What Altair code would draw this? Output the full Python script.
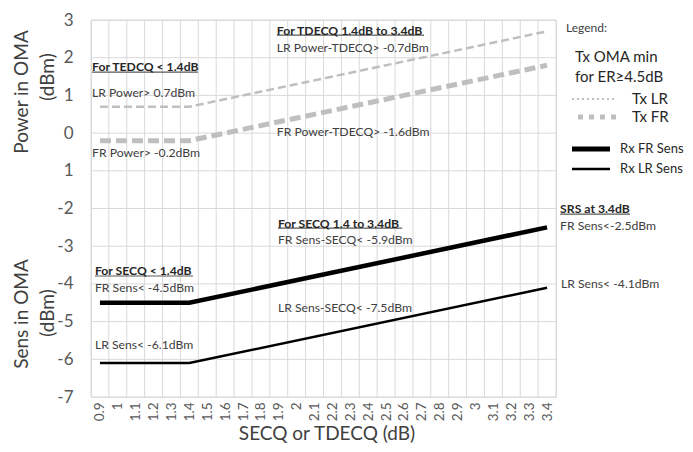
import altair as alt
import pandas as pd

# ---- data ----
x_ticks = [0.9, 1.0, 1.1, 1.2, 1.3, 1.4, 1.5, 1.6, 1.7, 1.8, 1.9, 2.0, 2.1, 2.2,
           2.3, 2.4, 2.5, 2.6, 2.7, 2.8, 2.9, 3.0, 3.1, 3.2, 3.3, 3.4]
y_ticks = [3, 2, 1, 0, -1, -2, -3, -4, -5, -6, -7]

break_x = [0.9, 1.4, 3.4]
tx_lr = [0.7, 0.7, 2.7]
tx_fr = [-0.2, -0.2, 1.8]
rx_fr = [-4.5, -4.5, -2.5]
rx_lr = [-6.1, -6.1, -4.1]

series_names = ["Tx LR", "Tx FR", "Rx FR Sens", "Rx LR Sens"]
series_vals = [tx_lr, tx_fr, rx_fr, rx_lr]

ann_text = ["For TEDCQ < 1.4dB", "LR Power> 0.7dBm", "FR Power> -0.2dBm",
            "For TDECQ 1.4dB to 3.4dB", "LR Power-TDECQ> -0.7dBm", "FR Power-TDECQ> -1.6dBm",
            "For SECQ < 1.4dB", "FR Sens< -4.5dBm", "LR Sens< -6.1dBm",
            "For SECQ 1.4 to 3.4dB", "FR Sens-SECQ< -5.9dBm", "LR Sens-SECQ< -7.5dBm",
            "SRS at 3.4dB", "FR Sens<-2.5dBm", "LR Sens< -4.1dBm"]
ann_x = [0.856, 0.856, 0.856,
         1.889, 1.889, 1.889,
         0.872, 0.872, 0.872,
         1.895, 1.895, 1.895,
         3.473, 3.473, 3.478]
ann_y = [1.75, 1.06, -0.53,
         2.71, 2.26, 0.03,
         -3.66, -4.11, -5.62,
         -2.41, -2.84, -4.64,
         -2.01, -2.46, -4.0]
ann_bold = [True, False, False, True, False, False, True, False, False,
            True, False, False, True, False, False]

ul_x = [0.856, 1.889, 0.872, 1.895, 3.473]
ul_x2 = [1.448, 2.712, 1.420, 2.590, 3.864]
ul_y = [1.62, 2.60, -3.79, -2.52, -2.15]

# ---- tables ----
rows = []
for name, vals in zip(series_names, series_vals):
    for xv, yv in zip(break_x, vals):
        rows.append({"series": name, "x": xv, "y": yv})
lines_df = pd.DataFrame(rows)

grid_x = [round(t - 0.05, 2) for t in x_ticks] + [round(x_ticks[-1] + 0.05, 2)]
grid_df = pd.DataFrame({"x": grid_x})
hgrid_df = pd.DataFrame({"y": y_ticks})

ann_df = pd.DataFrame({"t": ann_text, "x": ann_x, "y": ann_y, "b": ann_bold})
ul_df = pd.DataFrame({"x": ul_x, "x2": ul_x2, "y": ul_y})

FONT = "Lato"
GRID = "#D9D9D9"
TXC = "#BFBFBF"
TEXTC = "#404040"
ANN = 12.2

xs = alt.Scale(domain=[0.85, 3.45], nice=False, zero=False)
ys = alt.Scale(domain=[-7, 3], nice=False, zero=False)

x_axis = alt.Axis(values=x_ticks, format=".1~f", grid=False, ticks=False, domain=False,
                  labelAngle=-90, labelAlign="right", labelBaseline="middle",
                  labelFontSize=13.5, labelColor="#595959", labelFont=FONT,
                  labelPadding=5, title=None, labelOverlap=False)
y_axis = alt.Axis(values=y_ticks, grid=False, ticks=False, domain=False,
                  labelFontSize=17, labelColor="#595959", labelFont=FONT,
                  labelPadding=18, title=None,
                  labelExpr="datum.value == -1 ? '1' : (datum.value < 0 ? '-' + abs(datum.value) : '' + datum.value)")


def X(f="x"):
    return alt.X(f + ":Q", scale=xs, axis=x_axis)


def Y(f="y"):
    return alt.Y(f + ":Q", scale=ys, axis=y_axis)


vgrid = alt.Chart(grid_df).mark_rule(color=GRID, strokeWidth=1).encode(x=X())
hgrid = alt.Chart(hgrid_df).mark_rule(color=GRID, strokeWidth=1).encode(y=Y())

base = alt.Chart(lines_df).encode(x=X(), y=Y())

l_txlr = base.transform_filter(alt.datum.series == "Tx LR").mark_line(
    color=TXC, strokeWidth=2.5, strokeDash=[8, 4])
l_txfr = base.transform_filter(alt.datum.series == "Tx FR").mark_line(
    color=TXC, strokeWidth=5, strokeDash=[11, 5])
l_rxfr = base.transform_filter(alt.datum.series == "Rx FR Sens").mark_line(
    color="#000000", strokeWidth=4.5)
l_rxlr = base.transform_filter(alt.datum.series == "Rx LR Sens").mark_line(
    color="#000000", strokeWidth=2.5)

ann_norm = alt.Chart(ann_df).transform_filter(alt.datum.b == False).mark_text(
    align="left", baseline="middle", font=FONT, fontSize=ANN, color=TEXTC, clip=False
).encode(x=X(), y=Y(), text="t:N")
ann_bold_l = alt.Chart(ann_df).transform_filter(alt.datum.b == True).mark_text(
    align="left", baseline="middle", font=FONT, fontSize=ANN, fontWeight="bold",
    color="#262626", clip=False
).encode(x=X(), y=Y(), text="t:N")
underl = alt.Chart(ul_df).mark_rule(color="#595959", strokeWidth=1.2, clip=False).encode(
    x=X(), x2="x2:Q", y=Y())


# ---- manual legend and titles (pixel positions relative to plot) ----
def txt(s, x, y, size, angle=0, weight="normal", align="left", color=TEXTC):
    kw = dict(align=align, baseline="middle", font=FONT, fontSize=size,
              color=color, fontWeight=weight, clip=False)
    if angle:
        kw["angle"] = angle
        kw["align"] = "center"
    return alt.Chart(pd.DataFrame({"t": [s]})).mark_text(**kw).encode(
        x=alt.value(x), y=alt.value(y), text="t:N")


def seg(x1, x2, y, color, width, dash=None):
    kw = dict(color=color, strokeWidth=width, clip=False)
    if dash:
        kw["strokeDash"] = dash
    return alt.Chart(pd.DataFrame({"a": [0]})).mark_rule(**kw).encode(
        x=alt.value(x1), x2=alt.value(x2), y=alt.value(y))


legend = [
    txt("Legend:", 475, 8, 12),
    txt("Tx OMA min", 484, 37, 15, color="#262626"),
    txt("for ER\u22654.5dB", 484, 57, 15, color="#262626"),
    seg(481, 526, 79, TXC, 2, [2, 3]),
    txt("Tx LR", 541, 79, 15, color="#262626"),
    seg(487, 526, 97, TXC, 5, [5, 6]),
    txt("Tx FR", 541, 97, 15, color="#262626"),
    seg(481, 519, 129, "#000000", 5),
    txt("Rx FR Sens", 529, 129, 13, color="#262626"),
    seg(481, 519, 149, "#000000", 2.5),
    txt("Rx LR Sens", 529, 149, 13, color="#262626"),
    txt("Power in OMA", -69, 72, 19, angle=270),
    txt("(dBm)", -43, 57, 19, angle=270),
    txt("Sens in OMA", -69, 294, 19, angle=270),
    txt("(dBm)", -43, 293, 19, angle=270),
    txt("SECQ or TDECQ (dB)", 236, 414, 19, align="center"),
]

chart = alt.layer(
    vgrid, hgrid, l_txlr, l_txfr, l_rxfr, l_rxlr, underl, ann_norm, ann_bold_l, *legend
).properties(
    width=465, height=377,
    autosize=alt.AutoSizeParams(type="none"),
    padding={"left": 83, "top": 12, "right": 129, "bottom": 47},
).configure_view(stroke=None).configure(background="white")

chart.save("out.html", embed_options={"renderer": "svg", "actions": False})
